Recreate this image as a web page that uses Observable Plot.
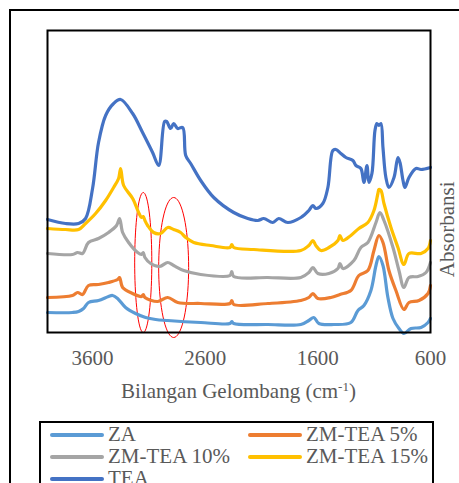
<!DOCTYPE html>
<html><head><meta charset="utf-8">
<script src="https://cdn.jsdelivr.net/npm/d3@7"></script>
<script src="https://cdn.jsdelivr.net/npm/@observablehq/plot@0.6"></script>
<style>
body{margin:0;background:#fff;}
#wrap{position:relative;width:459px;height:483px;overflow:hidden;font-family:'Liberation Serif','Times New Roman',Times,serif;color:#595959;}
#outer{position:absolute;left:9px;top:9px;width:520px;height:520px;border:2px solid #000;box-sizing:border-box;}
#chart{position:absolute;left:0;top:0;}
#chart svg text{font-family:'Liberation Serif','Times New Roman',Times,serif;}
#xtitle{position:absolute;left:47px;width:383px;top:381px;text-align:center;font-size:21px;line-height:21px;white-space:nowrap;}
#xtitle sup{font-size:13px;line-height:0;vertical-align:7px;}
#legend{position:absolute;left:39px;top:421px;width:395px;height:100px;border:2px solid #000;box-sizing:border-box;background:#fff;}
.li{position:absolute;height:21px;font-size:21px;line-height:21px;white-space:nowrap;}
.sw{position:absolute;left:0;top:9px;width:54px;height:4px;border-radius:2px;}
.lt{position:absolute;left:58px;top:0;}
</style>
</head><body>
<div id="wrap">
  <div id="outer"></div>
  <div id="chart"></div>
  <div id="xtitle">Bilangan Gelombang (cm<sup>-1</sup>)</div>
  <div id="legend"></div>
</div>
<script>
const seriesNames = ["ZA", "ZM-TEA 5%", "ZM-TEA 10%", "ZM-TEA 15%", "TEA"];
const seriesColors = ["#5B9BD5", "#ED7D31", "#A5A5A5", "#FFC000", "#4472C4"];
const xTicks = [3600, 2600, 1600, 600];
const xTitle = "Bilangan Gelombang (cm-1)";
const yTitle = "Absorbansi";

// wavenumber (cm-1), absorbance (arbitrary units)
const za = [[4000,0.20],[3778,0.20],[3724,0.21],[3680,0.24],[3636,0.30],[3547,0.32],[3458,0.36],[3422,0.37],[3378,0.34],[3307,0.25],[3218,0.19],[3129,0.15],[3040,0.13],[2933,0.12],[2640,0.10],[2380,0.09],[2364,0.11],[2347,0.09],[2044,0.08],[1751,0.08],[1680,0.12],[1636,0.15],[1591,0.09],[1458,0.08],[1307,0.10],[1244,0.22],[1191,0.27],[1129,0.42],[1084,0.67],[1058,0.76],[1022,0.67],[978,0.35],[933,0.14],[880,0.04],[836,-0.01],[773,0.04],[684,0.05],[622,0.10],[600,0.14]];
const zmTea5 = [[4000,0.35],[3778,0.37],[3733,0.40],[3689,0.38],[3636,0.47],[3547,0.48],[3458,0.50],[3378,0.53],[3360,0.55],[3333,0.45],[3244,0.39],[3165,0.36],[3150,0.38],[3135,0.35],[3022,0.31],[2933,0.35],[2844,0.30],[2640,0.29],[2380,0.29],[2364,0.32],[2347,0.28],[2044,0.29],[1751,0.32],[1680,0.35],[1644,0.39],[1600,0.34],[1484,0.35],[1404,0.38],[1307,0.42],[1236,0.57],[1156,0.62],[1102,0.82],[1058,0.97],[1022,0.90],[969,0.62],[907,0.42],[836,0.23],[791,0.30],[702,0.32],[622,0.39],[600,0.47]];
const zmTea10 = [[4000,0.79],[3778,0.78],[3733,0.80],[3689,0.79],[3636,0.90],[3547,0.94],[3458,1.00],[3387,1.07],[3360,1.14],[3333,1.00],[3280,0.90],[3200,0.80],[3165,0.78],[3150,0.80],[3135,0.75],[3084,0.69],[3004,0.66],[2933,0.70],[2880,0.67],[2791,0.62],[2640,0.58],[2380,0.57],[2364,0.61],[2347,0.56],[2044,0.55],[1751,0.55],[1680,0.60],[1644,0.65],[1600,0.59],[1502,0.59],[1422,0.64],[1404,0.69],[1378,0.64],[1280,0.72],[1218,0.85],[1156,0.90],[1084,1.10],[1049,1.20],[1013,1.12],[933,0.85],[880,0.62],[836,0.45],[791,0.55],[711,0.56],[640,0.60],[600,0.70]];
const zmTea15 = [[4000,1.04],[3840,1.03],[3724,1.03],[3662,1.09],[3573,1.19],[3484,1.32],[3413,1.45],[3369,1.54],[3351,1.64],[3324,1.47],[3244,1.34],[3191,1.20],[3165,1.15],[3150,1.16],[3135,1.12],[3111,1.07],[3058,1.00],[2996,0.99],[2933,1.05],[2880,1.03],[2818,1.00],[2773,0.95],[2702,0.90],[2551,0.87],[2380,0.85],[2364,0.88],[2347,0.85],[2169,0.83],[1751,0.82],[1680,0.87],[1644,0.92],[1618,0.87],[1573,0.82],[1502,0.85],[1422,0.92],[1404,0.97],[1378,0.92],[1307,0.97],[1236,1.04],[1156,1.10],[1102,1.22],[1067,1.39],[1058,1.43],[1040,1.42],[1013,1.29],[951,1.05],[889,0.85],[836,0.68],[791,0.79],[684,0.79],[622,0.84],[600,0.92]];
const tea = [[4000,1.13],[3840,1.09],[3724,1.09],[3662,1.14],[3600,1.44],[3547,1.90],[3484,2.17],[3413,2.29],[3351,2.33],[3244,2.19],[3156,2.00],[3067,1.80],[3013,1.67],[2960,2.11],[2942,2.11],[2907,2.04],[2880,2.09],[2844,2.04],[2800,2.05],[2773,1.77],[2729,1.69],[2640,1.52],[2524,1.35],[2347,1.20],[2222,1.14],[2133,1.12],[2080,1.14],[2000,1.10],[1947,1.14],[1867,1.10],[1751,1.15],[1680,1.22],[1644,1.27],[1618,1.24],[1556,1.29],[1511,1.45],[1467,1.82],[1440,1.83],[1396,1.79],[1351,1.75],[1289,1.72],[1262,1.67],[1218,1.64],[1191,1.50],[1164,1.67],[1147,1.50],[1120,1.59],[1093,2.02],[1076,2.09],[1058,2.07],[1040,2.09],[1022,1.85],[996,1.55],[969,1.45],[924,1.55],[889,1.75],[871,1.70],[844,1.52],[827,1.45],[791,1.55],[729,1.64],[684,1.63],[600,1.65]];

// red annotation ellipses: center wavenumber, center absorbance, half-width (cm-1), half-height
const ellipseCx = [3150, 2880];
const ellipseCy = [0.70, 0.65];
const ellipseRx = [76, 133];
const ellipseRy = [0.70, 0.70];

const seriesData = [za, zmTea5, zmTea10, zmTea15, tea];
const rows = [];
seriesData.forEach((s, i) => s.forEach(([w, a]) => rows.push({w, a, name: seriesNames[i]})));

const ell = [];
ellipseCx.forEach((cx, k) => {
  for (let t = 0; t < 72; t++) {
    const th = t / 72 * 2 * Math.PI;
    ell.push({k, w: cx + ellipseRx[k] * Math.cos(th), a: ellipseCy[k] + ellipseRy[k] * Math.sin(th)});
  }
});

const serif = "'Liberation Serif','Times New Roman',Times,serif";
const chart = Plot.plot({
  width: 459, height: 415,
  marginLeft: 47, marginRight: 29, marginTop: 30, marginBottom: 83,
  style: {fontFamily: serif, fontSize: "21px", color: "#595959", background: "transparent"},
  x: {domain: [4000, 600], ticks: xTicks, tickSize: 0, tickPadding: 18, label: null, tickFormat: d => String(d)},
  y: {domain: [0, 3.02], axis: null},
  color: {domain: seriesNames, range: seriesColors},
  marks: [
    Plot.line(ell, {x: "w", y: "a", z: "k", stroke: "red", strokeWidth: 1, curve: "linear-closed"}),
    Plot.line(rows, {x: "w", y: "a", z: "name", stroke: "name", strokeWidth: 3.2, curve: "catmull-rom", clip: false}),
    Plot.frame({stroke: "#000", strokeWidth: 2}),
    Plot.text([yTitle], {frameAnchor: "right", text: d => d, rotate: -90, dx: 17, fontSize: 21, fill: "#595959", fontFamily: serif})
  ]
});
document.getElementById("chart").appendChild(chart);

const lg = document.getElementById("legend");
seriesNames.forEach((n, i) => {
  const col = i % 2, row = Math.floor(i / 2);
  const d = document.createElement("div");
  d.className = "li";
  d.style.left = (col === 0 ? 9 : 207) + "px";
  d.style.top = (1 + row * 22) + "px";
  d.innerHTML = `<div class="sw" style="background:${seriesColors[i]}"></div><div class="lt">${n}</div>`;
  lg.appendChild(d);
});
</script>
</body></html>
